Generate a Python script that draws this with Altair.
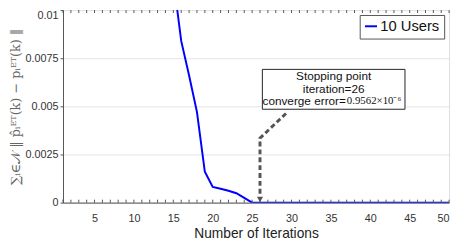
import altair as alt
import pandas as pd

# main series
iterations = [15, 16, 17, 18, 19, 20, 21, 22, 23, 24, 25] + list(range(26, 51))
errors = [0.0116, 0.0084, 0.0066, 0.0047, 0.0016, 0.00082, 0.00072, 0.00062, 0.00049, 0.00025, 0.0] + [0.0] * 25
series_name = "10 Users"

x_ticks = [5, 10, 15, 20, 25, 30, 35, 40, 45, 50]
y_ticks = [0, 0.0025, 0.005, 0.0075, 0.01]
minor_ticks = list(range(1, 51))

# annotation
box_x = [26.3]
box_x2 = [44.4]
box_y = [0.00692]
box_y2 = [0.00485]
note_lines = ["Stopping point", "iteration=26"]
note_x = [35.35, 35.35]
note_y = [0.00657, 0.00588]
err_label = ["converge error="]
err_value = ["0.9562×10⁻⁶"]
err_x = [36.9]
err_y = [0.00528]
arrow_x = [29.3, 26.0, 26.0]
arrow_y = [0.00463, 0.00335, 0.00035]
arrow_order = [0, 1, 2]
head_x = [26.0]
head_y = [0.00016]

W, H = 393, 196
FONT = "Liberation Sans"

df = pd.DataFrame({"it": iterations, "err": errors, "s": [series_name] * len(iterations)})

xs = alt.Scale(domain=[1, 50], nice=False, zero=False)
ys = alt.Scale(domain=[0, 0.01], nice=False)

xaxis = alt.Axis(values=x_ticks, title="Number of Iterations", grid=False, ticks=False,
                 labelFontSize=11, titleFontSize=14, titleFontWeight="normal",
                 labelPadding=10, titlePadding=4,
                 domainColor="#555", labelColor="#333", titleColor="#222", labelFont=FONT, titleFont=FONT)
yaxis = alt.Axis(values=y_ticks, labelExpr="'' + datum.value",
                 labelBaseline={"condition": {"test": "datum.value >= 0.01", "value": "top"}, "value": "middle"},
                 title="∑ᵢ∈𝒩 ‖ p̂ᵢᴱᵀ(k) − pᵢᴱᵀ(k) ‖", grid=True,
                 gridColor="#e3e3e3", tickSize=3, tickColor="#555", domainColor="#555",
                 labelFontSize=11, titleFontSize=13, titleFontWeight="normal",
                 labelColor="#333", titleColor="#666",
                 labelFont=FONT, titleFont="DejaVu Serif", titlePadding=3)

line = alt.Chart(df).mark_line(clip=True, strokeWidth=2).encode(
    x=alt.X("it:Q", scale=xs, axis=xaxis),
    y=alt.Y("err:Q", scale=ys, axis=yaxis),
    color=alt.Color("s:N", scale=alt.Scale(range=["#0000ff"]),
                    legend=alt.Legend(title=None, orient="top-right", offset=5,
                                      labelFontSize=15, labelFont=FONT, labelColor="#111",
                                      symbolType="stroke", symbolStrokeWidth=2, symbolSize=150,
                                      strokeColor="#555", fillColor="white", padding=4,
                                      labelOffset=2)),
)

tdf = pd.DataFrame({"t": minor_ticks})
bottom_ticks = alt.Chart(tdf).mark_rule(color="#555", strokeWidth=1).encode(
    x=alt.X("t:Q", scale=xs), y=alt.value(H), y2=alt.value(H - 3))
top_ticks = alt.Chart(tdf).mark_rule(color="#555", strokeWidth=1).encode(
    x=alt.X("t:Q", scale=xs), y=alt.value(0), y2=alt.value(3))

bdf = pd.DataFrame({"x": box_x, "x2": box_x2, "y": box_y, "y2": box_y2})
box = alt.Chart(bdf).mark_rect(fill="white", stroke="#222", strokeWidth=1).encode(
    x=alt.X("x:Q", scale=xs), x2="x2:Q", y=alt.Y("y:Q", scale=ys), y2="y2:Q")

ndf = pd.DataFrame({"x": note_x, "y": note_y, "t": note_lines})
notes = alt.Chart(ndf).mark_text(fontSize=12, font=FONT, color="#111").encode(
    x=alt.X("x:Q", scale=xs), y=alt.Y("y:Q", scale=ys), text="t:N")

edf = pd.DataFrame({"x": err_x, "y": err_y, "a": err_label, "b": err_value})
err_a = alt.Chart(edf).mark_text(fontSize=12, font=FONT, color="#111", align="right").encode(
    x=alt.X("x:Q", scale=xs), y=alt.Y("y:Q", scale=ys), text="a:N")
err_b = alt.Chart(edf).mark_text(fontSize=11, font="Liberation Serif", color="#111", align="left", dx=1).encode(
    x=alt.X("x:Q", scale=xs), y=alt.Y("y:Q", scale=ys), text="b:N")

adf = pd.DataFrame({"x": arrow_x, "y": arrow_y, "o": arrow_order})
arrow = alt.Chart(adf).mark_line(color="#555", strokeWidth=3, strokeDash=[5, 3]).encode(
    x=alt.X("x:Q", scale=xs), y=alt.Y("y:Q", scale=ys), order="o:Q")

hdf = pd.DataFrame({"x": head_x, "y": head_y})
head = alt.Chart(hdf).mark_point(shape="triangle-down", filled=True, color="#555", size=40, opacity=1).encode(
    x=alt.X("x:Q", scale=xs), y=alt.Y("y:Q", scale=ys))

chart = alt.layer(line, bottom_ticks, top_ticks, box, notes, err_a, err_b, arrow, head).properties(
    width=W, height=H,
    autosize=alt.AutoSizeParams(type="none"),
    padding={"left": 56, "top": 0, "right": 6, "bottom": 40},
).configure_view(stroke="#555", strokeWidth=1).configure(background="white")

chart.save("out.html", embed_options={"renderer": "svg", "actions": False})
